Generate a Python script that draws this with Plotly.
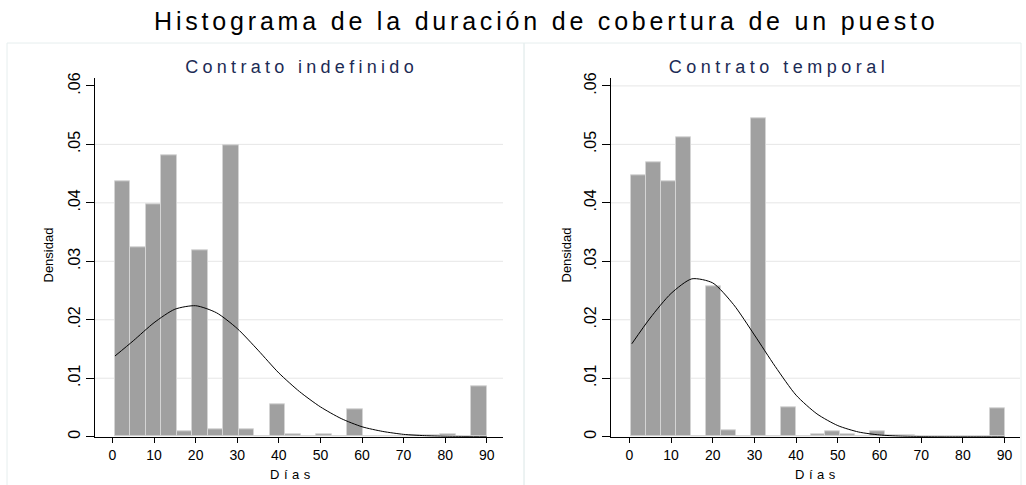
import plotly.graph_objects as go

# ---------------- data ----------------
panel_titles = ["Contrato indefinido", "Contrato temporal"]
main_title = "Histograma de la duración de cobertura de un puesto"
x_title = "Días"
y_title = "Densidad"

x_tick_vals = [0, 10, 20, 30, 40, 50, 60, 70, 80, 90]
y_tick_vals = [0, 0.01, 0.02, 0.03, 0.04, 0.05, 0.06]
y_tick_text = ["0", ".01", ".02", ".03", ".04", ".05", ".06"]

# histogram: Contrato indefinido (24 bins)
indef_bin_start = 0.5
indef_bin_width = 3.73
indef_density = [0.0436, 0.0324, 0.0398, 0.0481, 0.0009, 0.0318, 0.0013, 0.0498,
                 0.0013, 0.0, 0.0056, 0.00035, 0.0, 0.00035, 0.0, 0.0047,
                 0.0, 0.0, 0.0, 0.0002, 0.0002, 0.00045, 0.0, 0.0087]

# histogram: Contrato temporal (25 bins)
temp_bin_start = 0.5
temp_bin_width = 3.58
temp_density = [0.0447, 0.0469, 0.0436, 0.0512, 0.0, 0.0257, 0.0011, 0.0,
                0.0545, 0.0, 0.0050, 0.0, 0.0004, 0.0009, 0.0004, 0.0,
                0.0010, 0.0002, 0.0002, 0.0, 0.0, 0.0, 0.0, 0.0, 0.0049]

# normal density overlays
indef_curve_x = [0.6, 5, 10, 15, 20, 25, 30, 35, 40, 45, 50, 55, 60, 65, 70, 75, 80, 85, 90]
indef_curve_y = [0.0138, 0.0164, 0.0195, 0.0218, 0.0224, 0.0212, 0.0185, 0.0148,
                 0.0109, 0.0077, 0.0051, 0.0031, 0.0017, 0.0009, 0.0004, 0.00018,
                 0.00007, 0.00003, 0.00001]

temp_curve_x = [0.6, 5, 10, 15, 20, 25, 30, 35, 40, 45, 50, 55, 60, 65, 70, 75, 80, 85, 90]
temp_curve_y = [0.0159, 0.0203, 0.0245, 0.0270, 0.0263, 0.0226, 0.0174, 0.0120,
                0.0071, 0.0039, 0.0019, 0.0008, 0.0003, 0.0001, 0.00003, 0.0, 0.0,
                0.0, 0.0]

# ---------------- figure ----------------
W, H = 1026, 485
FONT = "Liberation Sans, Arial, Helvetica, sans-serif"
BAR_FILL = "#a0a0a0"
BAR_LINE = "#d4d4d4"
GRID = "#e6e6e6"
NAVY = "#1c2b55"


def px(xp):
    return xp / W


def py(yp):
    return 1 - yp / H


fig = go.Figure()

panels = [
    (indef_bin_start, indef_bin_width, indef_density, indef_curve_x, indef_curve_y, "x", "y"),
    (temp_bin_start, temp_bin_width, temp_density, temp_curve_x, temp_curve_y, "x2", "y2"),
]
for start, width, dens, cx, cy, xa, ya in panels:
    edges = [start + i * width for i in range(len(dens))]
    fig.add_trace(go.Bar(
        x=edges, y=dens, width=width, offset=0,
        marker=dict(color=BAR_FILL, line=dict(color=BAR_LINE, width=1)),
        xaxis=xa, yaxis=ya, showlegend=False, hoverinfo="skip",
    ))
    fig.add_trace(go.Scatter(
        x=cx, y=cy, mode="lines",
        line=dict(color="black", width=1, shape="spline", smoothing=0.7),
        xaxis=xa, yaxis=ya, showlegend=False, hoverinfo="skip",
    ))

xdom_left = [px(95), px(503)]
xdom_right = [px(611), px(1020)]
ydom = [py(436.7), py(78.3)]

xaxis_common = dict(
    range=[-4.2, 93.9], tickvals=x_tick_vals, ticks="outside", ticklen=5,
    tickcolor="black", showline=True, linecolor="black", linewidth=1,
    showgrid=False, zeroline=False, tickfont=dict(family=FONT, size=14, color="black"),
    automargin=False, fixedrange=True, ticklabelstandoff=0,
)
yaxis_common = dict(
    range=[0, 0.0613], tickvals=y_tick_vals, ticktext=y_tick_text, ticks="outside",
    ticklen=8, tickcolor="black", showline=True, linecolor="black", linewidth=1,
    showgrid=False, zeroline=False, tickangle=-90,
    tickfont=dict(family=FONT, size=16, color="black"), automargin=False,
    fixedrange=True, ticklabelstandoff=0,
)

fig.update_layout(
    width=W, height=H, autosize=False,
    margin=dict(l=0, r=0, t=0, b=0),
    paper_bgcolor="white", plot_bgcolor="white",
    bargap=0,
    xaxis=dict(domain=xdom_left, anchor="y", **xaxis_common),
    yaxis=dict(domain=ydom, anchor="x", **yaxis_common),
    xaxis2=dict(domain=xdom_right, anchor="y2", **{**xaxis_common, "range": [-4.4, 93.7]}),
    yaxis2=dict(domain=ydom, anchor="x2", **yaxis_common),
)

# panel boxes and gridlines
shapes = [
    dict(type="rect", xref="paper", yref="paper", x0=px(7), x1=px(524), y0=-0.2, y1=py(43),
         line=dict(color="#e6eeee", width=1), fillcolor="rgba(0,0,0,0)", layer="below"),
    dict(type="rect", xref="paper", yref="paper", x0=px(524), x1=px(1021), y0=-0.2, y1=py(43),
         line=dict(color="#e6eeee", width=1), fillcolor="rgba(0,0,0,0)", layer="below"),
]
left_grid = [0.01, 0.02, 0.03, 0.04, 0.05]
right_grid = [0.01, 0.02, 0.03, 0.04, 0.05, 0.06]
for g in left_grid:
    shapes.append(dict(type="line", xref="x domain", yref="y", x0=0, x1=1, y0=g, y1=g,
                       line=dict(color=GRID, width=1), layer="below"))
for g in right_grid:
    shapes.append(dict(type="line", xref="x2 domain", yref="y2", x0=0, x1=1, y0=g, y1=g,
                       line=dict(color=GRID, width=1), layer="below"))
fig.update_layout(shapes=shapes)

ann = [
    dict(text=main_title, x=px(546), y=py(21), font=dict(family=FONT, size=25, color="black")),
    dict(text=panel_titles[0], x=px(301), y=py(67), font=dict(family=FONT, size=18, color=NAVY)),
    dict(text=panel_titles[1], x=px(779), y=py(67), font=dict(family=FONT, size=18, color=NAVY)),
    dict(text=x_title, x=px(292), y=py(474), font=dict(family=FONT, size=13, color="black")),
    dict(text=x_title, x=px(817), y=py(474), font=dict(family=FONT, size=13, color="black")),
    dict(text=y_title, x=px(48), y=py(255.5), textangle=-90, font=dict(family=FONT, size=13, color="black")),
    dict(text=y_title, x=px(566), y=py(255.5), textangle=-90, font=dict(family=FONT, size=13, color="black")),
]
for a in ann:
    a.update(xref="paper", yref="paper", showarrow=False, xanchor="center", yanchor="middle")
fig.update_layout(annotations=ann)

post = """
document.body.style.margin = '0';
document.body.style.overflow = 'hidden';
var ls = [3.8, 4.3, 4.5, 4.5, 4.5, 0, 0];
var els = document.querySelectorAll('.annotation-text');
els.forEach(function(e, i){ if (ls[i]) { e.style.letterSpacing = ls[i] + 'px'; } });
"""

fig.write_html("out.html", post_script=post, config={"displayModeBar": False})
